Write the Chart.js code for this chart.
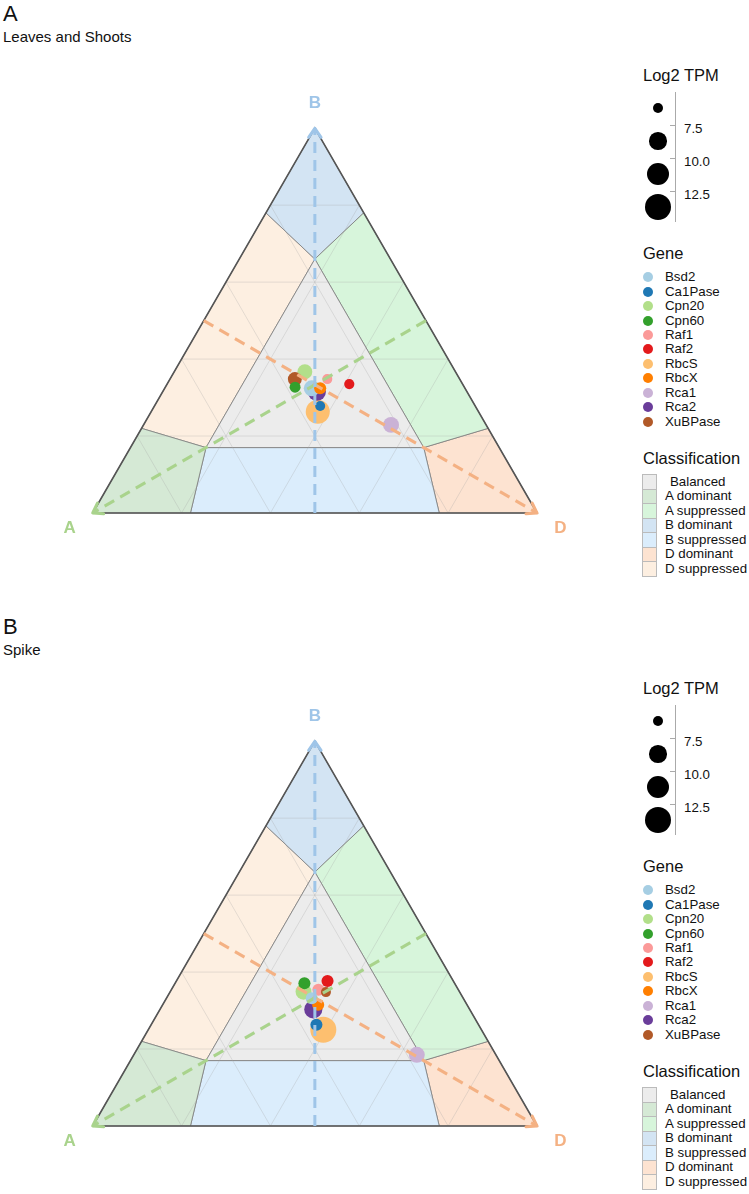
<!DOCTYPE html>
<html lang="en">
<head>
<meta charset="UTF-8">
<title>Homoeolog expression bias - ternary plots</title>
<script src="https://cdn.jsdelivr.net/npm/chart.js"></script>
<style>
  body { margin: 0; background: #fff; font-family: "Liberation Sans", Arial, sans-serif; color: #111; }
  #page { position: relative; width: 749px; height: 1194px; overflow: hidden; }
  .tag { position: absolute; left: 3px; font-size: 22px; line-height: 1; }
  .sub { position: absolute; left: 3px; font-size: 15px; line-height: 1; }
  .plot { position: absolute; left: 0; }
  .legend { position: absolute; left: 0; top: 0; width: 749px; height: 1px; }
  .legend div { position: absolute; white-space: nowrap; line-height: 1; }
  .head { font-size: 16.5px; }
  .item { font-size: 13.3px; }
</style>
</head>
<body>
<div id="page">
  <div class="tag" style="top:3px">A</div>
  <div class="sub" style="top:29px">Leaves and Shoots</div>
  <canvas id="leaf" class="plot" width="620" height="500" style="top:60px"></canvas>
  <div id="legLeaf" class="legend"></div>

  <div class="tag" style="top:616px">B</div>
  <div class="sub" style="top:642px">Spike</div>
  <canvas id="spike" class="plot" width="620" height="500" style="top:673px"></canvas>
  <div id="legSpike" class="legend"></div>
</div>

<script>
// ---- data ----
const genes = ['Bsd2', 'Ca1Pase', 'Cpn20', 'Cpn60', 'Raf1', 'Raf2', 'RbcS', 'RbcX', 'Rca1', 'Rca2', 'XuBPase'];
const geneColors = ['#a6cee3', '#1f78b4', '#b2df8a', '#33a02c', '#fb9a99', '#e31a1c', '#fdbf6f', '#ff7f00', '#cab2d6', '#6a3d9a', '#b15928'];

// relative expression of the A, B and D homoeologs, leaves and shoots
const leafA = [0.345, 0.349, 0.339, 0.381, 0.298, 0.255, 0.362, 0.326, 0.214, 0.338, 0.371];
const leafB = [0.324, 0.278, 0.367, 0.327, 0.348, 0.335, 0.263, 0.324, 0.229, 0.315, 0.348];
const leafD = [0.331, 0.373, 0.294, 0.292, 0.354, 0.410, 0.375, 0.350, 0.557, 0.347, 0.281];
const leafTPM = [8.1, 6.25, 7.7, 6.5, 6.25, 6.3, 12.0, 6.8, 8.1, 9.0, 7.4];

// spike
const spikeA = [0.341, 0.365, 0.351, 0.338, 0.315, 0.283, 0.356, 0.335, 0.178, 0.352, 0.301];
const spikeB = [0.332, 0.263, 0.349, 0.371, 0.354, 0.377, 0.250, 0.315, 0.185, 0.303, 0.348];
const spikeD = [0.327, 0.372, 0.300, 0.291, 0.331, 0.340, 0.394, 0.350, 0.637, 0.345, 0.351];
const spikeTPM = [6.8, 6.8, 8.1, 6.8, 6.8, 6.8, 13.2, 6.8, 8.1, 9.0, 6.25];

const classNames = ['Balanced', 'A dominant', 'A suppressed', 'B dominant', 'B suppressed', 'D dominant', 'D suppressed'];
const classColors = ['#ececec', '#d5e9d5', '#d7f5db', '#d3e4f3', '#dbedfc', '#fde3d1', '#fdefe1'];

// region corners as (A, B, D) shares, same order as classNames
const regionCorners = [
  [[0.66, 0.17, 0.17], [0.17, 0.66, 0.17], [0.17, 0.17, 0.66]],
  [[1, 0, 0], [0.78, 0.22, 0], [0.66, 0.17, 0.17], [0.78, 0, 0.22]],
  [[0, 0.78, 0.22], [0, 0.22, 0.78], [0.17, 0.17, 0.66], [0.17, 0.66, 0.17]],
  [[0, 1, 0], [0.22, 0.78, 0], [0.17, 0.66, 0.17], [0, 0.78, 0.22]],
  [[0.78, 0, 0.22], [0.66, 0.17, 0.17], [0.17, 0.17, 0.66], [0.22, 0, 0.78]],
  [[0, 0, 1], [0.22, 0, 0.78], [0.17, 0.17, 0.66], [0, 0.22, 0.78]],
  [[0.78, 0.22, 0], [0.22, 0.78, 0], [0.17, 0.66, 0.17], [0.66, 0.17, 0.17]]
];

const gridSteps = [0.2, 0.4, 0.6, 0.8];
const sizeKeys = [6.25, 8.75, 11.25, 13.75];
const sizeTicks = [7.5, 10.0, 12.5];

// arrows from edge midpoints to each corner
const arrowFrom = [[0.5, 0, 0.5], [0, 0.5, 0.5], [0.5, 0.5, 0]];
const arrowTo = [[0, 1, 0], [1, 0, 0], [0, 0, 1]];
const arrowColors = ['#9fc5e8', '#a9d38c', '#f4b183'];
const cornerNames = ['A', 'B', 'D'];
const cornerColors = ['#a9d38c', '#9fc5e8', '#f4b183'];

// ---- helpers ----
const H = Math.sqrt(3) / 2;
function toXY(p) {
  const s = p[0] + p[1] + p[2];
  return { x: (p[2] + p[1] / 2) / s, y: p[1] * H / s };
}
function radius(v) {
  return Math.sqrt(Math.max(4, 25 + 20.8 * (v - 6.25)));
}

// draws the arrow heads and the A / B / D corner names
const ternaryDecor = {
  id: 'ternaryDecor',
  afterDatasetsDraw(chart) {
    const ctx = chart.ctx;
    chart.data.datasets.forEach((ds, i) => {
      if (!ds.arrowHead) return;
      const pts = chart.getDatasetMeta(i).data;
      const a = pts[pts.length - 2], b = pts[pts.length - 1];
      const ang = Math.atan2(b.y - a.y, b.x - a.x);
      ctx.save();
      ctx.setLineDash([]);
      ctx.strokeStyle = ds.borderColor;
      ctx.lineWidth = 3;
      ctx.lineCap = 'round';
      ctx.lineJoin = 'round';
      ctx.beginPath();
      ctx.moveTo(b.x - 11 * Math.cos(ang - 0.6), b.y - 11 * Math.sin(ang - 0.6));
      ctx.lineTo(b.x, b.y);
      ctx.lineTo(b.x - 11 * Math.cos(ang + 0.6), b.y - 11 * Math.sin(ang + 0.6));
      ctx.stroke();
      ctx.restore();
    });
  },
  afterDraw(chart) {
    const ctx = chart.ctx, xs = chart.scales.x, ys = chart.scales.y;
    const corners = [[1, 0, 0], [0, 1, 0], [0, 0, 1]];
    const off = [[-23, 15], [0, -25], [23.5, 15]];
    ctx.save();
    ctx.font = 'bold 17px "Liberation Sans", Arial, sans-serif';
    ctx.textAlign = 'center';
    ctx.textBaseline = 'middle';
    corners.forEach((c, i) => {
      const q = toXY(c);
      ctx.fillStyle = cornerColors[i];
      ctx.fillText(cornerNames[i], xs.getPixelForValue(q.x) + off[i][0], ys.getPixelForValue(q.y) + off[i][1]);
    });
    ctx.restore();
  }
};

function drawPanel(id, A, B, D, tpm) {
  const datasets = [];
  classNames.forEach((name, i) => {
    const poly = regionCorners[i].map(toXY);
    poly.push(poly[0]);
    datasets.push({ label: name, data: poly, fill: 'shape', backgroundColor: classColors[i],
      borderColor: 'rgba(125,125,125,0.8)', borderWidth: 1, pointRadius: 0, order: 1000 });
  });
  gridSteps.forEach(g => {
    const segs = [
      [[g, 1 - g, 0], [g, 0, 1 - g]],
      [[1 - g, g, 0], [0, g, 1 - g]],
      [[1 - g, 0, g], [0, 1 - g, g]]
    ];
    segs.forEach(s => datasets.push({ data: s.map(toXY), borderColor: 'rgba(160,160,160,0.28)',
      borderWidth: 1, pointRadius: 0, fill: false, order: 900 }));
  });
  datasets.push({ data: [[1, 0, 0], [0, 1, 0], [0, 0, 1], [1, 0, 0]].map(toXY), borderColor: '#555',
    borderWidth: 1.6, pointRadius: 0, fill: false, order: 800 });
  genes.forEach((g, i) => {
    const r = radius(tpm[i]);
    datasets.push({ label: g, data: [toXY([A[i], B[i], D[i]])], showLine: false, pointRadius: r,
      pointBackgroundColor: geneColors[i], pointBorderWidth: 0, order: 100 + r });
  });
  arrowFrom.forEach((f, i) => {
    datasets.push({ data: [toXY(f), toXY(arrowTo[i])], borderColor: arrowColors[i], borderWidth: 3,
      borderDash: [11, 7], pointRadius: 0, fill: false, order: 0, arrowHead: true });
  });

  new Chart(document.getElementById(id), {
    type: 'line',
    data: { datasets },
    options: {
      responsive: false,
      animation: false,
      events: [],
      layout: { padding: 0, autoPadding: false },
      elements: { line: { tension: 0 } },
      plugins: { legend: { display: false }, tooltip: { enabled: false } },
      scales: {
        x: { type: 'linear', display: false, min: -0.20864, max: 1.18681 },
        y: { type: 'linear', display: false, min: -0.10578, max: 1.01958 }
      }
    },
    plugins: [ternaryDecor]
  });
}

function drawLegend(id, top) {
  const box = document.getElementById(id);
  let html = '';
  html += `<div class="head" style="left:643px;top:${top + 7}px">Log2 TPM</div>`;
  sizeKeys.forEach((v, i) => {
    const r = radius(v), cy = top + 48 + 33 * i;
    html += `<div style="left:${658 - r}px;top:${cy - r}px;width:${2 * r}px;height:${2 * r}px;border-radius:50%;background:#000"></div>`;
  });
  html += `<div style="left:675px;top:${top + 32}px;width:1px;height:130px;background:#aaa"></div>`;
  sizeTicks.forEach((t, i) => {
    const ty = top + 64.5 + 33 * i;
    html += `<div style="left:670px;top:${ty}px;width:5px;height:1px;background:#aaa"></div>`;
    html += `<div class="item" style="left:684px;top:${ty - 3}px">${t.toFixed(1)}</div>`;
  });
  html += `<div class="head" style="left:643px;top:${top + 185}px">Gene</div>`;
  genes.forEach((g, i) => {
    const cy = top + 217.3 + 14.43 * i;
    html += `<div style="left:643px;top:${cy - 5}px;width:10px;height:10px;border-radius:50%;background:${geneColors[i]}"></div>`;
    html += `<div class="item" style="left:665px;top:${cy - 7}px">${g}</div>`;
  });
  html += `<div class="head" style="left:643px;top:${top + 390}px">Classification</div>`;
  classNames.forEach((c, i) => {
    const cy = top + 421.7 + 14.5 * i;
    html += `<div style="left:642px;top:${cy - 7.25}px;width:13px;height:13.5px;background:${classColors[i]};border:0.5px solid #bbb"></div>`;
    html += `<div class="item" style="left:${i === 0 ? 670 : 665}px;top:${cy - 7}px">${c}</div>`;
  });
  box.innerHTML = html;
}

drawPanel('leaf', leafA, leafB, leafD, leafTPM);
drawPanel('spike', spikeA, spikeB, spikeD, spikeTPM);
drawLegend('legLeaf', 60);
drawLegend('legSpike', 673);
</script>
</body>
</html>
